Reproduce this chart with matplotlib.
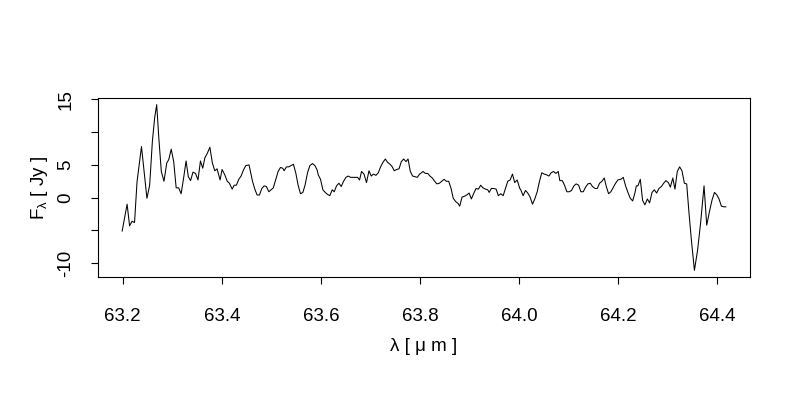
import matplotlib
matplotlib.use("Agg")
import matplotlib.pyplot as plt

plt.rcParams['font.family'] = ['Liberation Sans', 'DejaVu Sans']
plt.rcParams['mathtext.fontset'] = 'custom'
plt.rcParams['mathtext.rm'] = 'Liberation Sans'
plt.rcParams['mathtext.default'] = 'regular'

# wavelength [um] and flux [Jy]
wavelength = [
    63.199, 63.209, 63.214, 63.219, 63.224, 63.229, 63.238, 63.249, 63.2545, 63.260,
    63.2646, 63.2687, 63.273, 63.278, 63.2834, 63.289, 63.293, 63.298, 63.303, 63.308,
    63.313, 63.318, 63.323, 63.328, 63.3325, 63.337, 63.342, 63.347, 63.352, 63.357,
    63.3616, 63.366, 63.371, 63.376, 63.381, 63.3859, 63.3905, 63.3966, 63.4006, 63.406,
    63.411, 63.4154, 63.421, 63.425, 63.4295, 63.4343, 63.439, 63.4436, 63.4485, 63.455,
    63.4586, 63.462, 63.4667, 63.4713, 63.476, 63.4808, 63.4855, 63.490, 63.495, 63.4996,
    63.504, 63.509, 63.5137, 63.5184, 63.523, 63.5258, 63.5305, 63.535, 63.540, 63.5446,
    63.5495, 63.554, 63.5588, 63.5636, 63.568, 63.573, 63.5778, 63.583, 63.5879, 63.5925,
    63.5945, 63.5992, 63.604, 63.6087, 63.6133, 63.618, 63.6228, 63.6269, 63.6315, 63.6364,
    63.641, 63.6457, 63.6505, 63.655, 63.6598, 63.6646, 63.669, 63.674, 63.678, 63.682,
    63.6869, 63.692, 63.697, 63.7016, 63.706, 63.711, 63.7158, 63.7204, 63.7253, 63.730,
    63.7345, 63.7394, 63.744, 63.748, 63.7527, 63.7576, 63.7622, 63.767, 63.7717, 63.7758,
    63.7804, 63.785, 63.790, 63.7945, 63.7992, 63.8012, 63.806, 63.8107, 63.8154, 63.820,
    63.8248, 63.8295, 63.834, 63.839, 63.8436, 63.8485, 63.853, 63.8578, 63.8626, 63.867,
    63.872, 63.8768, 63.880, 63.8848, 63.8895, 63.894, 63.899, 63.9036, 63.908, 63.913,
    63.9178, 63.9224, 63.927, 63.932, 63.9366, 63.9394, 63.944, 63.9487, 63.9535, 63.958,
    63.963, 63.9677, 63.972, 63.977, 63.9818, 63.9865, 63.991, 63.996, 64.0012, 64.0032,
    64.008, 64.0127, 64.0174, 64.022, 64.0269, 64.0315, 64.0364, 64.041, 64.0457, 64.0505,
    64.055, 64.060, 64.0646, 64.0693, 64.074, 64.0788, 64.082, 64.087, 64.0915, 64.0962,
    64.101, 64.1057, 64.1104, 64.115, 64.120, 64.1245, 64.1293, 64.134, 64.1386, 64.1434,
    64.148, 64.153, 64.1576, 64.1622, 64.167, 64.1717, 64.1758, 64.1804, 64.185, 64.190,
    64.1945, 64.1992, 64.204, 64.2052, 64.210, 64.2147, 64.2194, 64.2242, 64.229, 64.2335,
    64.2364, 64.2396, 64.2444, 64.249, 64.2537, 64.2586, 64.2632, 64.268, 64.2727, 64.2774,
    64.282, 64.287, 64.2915, 64.296, 64.301, 64.305, 64.310, 64.3143, 64.319, 64.3238,
    64.3285, 64.3333, 64.338, 64.3427, 64.3475, 64.3536, 64.360, 64.366, 64.373, 64.3784,
    64.384, 64.389, 64.394, 64.399, 64.4032, 64.408, 64.4133, 64.417,
]
flux = [
    -5.1, -1.0, -4.3, -3.6, -3.8, 2.4, 7.8, -0.1, 1.9, 8.6,
    12.2, 14.2, 9.1, 4.0, 2.5, 5.3, 5.8, 7.4, 5.5, 1.5,
    1.5, 0.6, 3.0, 5.6, 3.2, 2.6, 3.9, 3.7, 2.7, 5.6,
    4.5, 6.1, 6.8, 7.7, 5.3, 4.1, 4.4, 2.7, 4.3, 3.5,
    2.5, 2.2, 1.3, 1.9, 1.9, 2.8, 3.3, 4.2, 4.9, 5.0,
    3.7, 2.5, 1.3, 0.4, 0.4, 1.4, 1.8, 1.7, 0.9, 1.2,
    1.5, 2.8, 4.0, 4.6, 4.5, 4.1, 4.7, 4.7, 4.9, 5.1,
    3.7, 1.9, 0.6, 0.8, 1.9, 3.8, 4.9, 5.2, 4.9, 4.2,
    3.5, 2.8, 1.2, 0.8, 0.5, 0.3, 1.2, 0.9, 1.8, 2.2,
    1.7, 2.5, 3.1, 3.3, 3.1, 3.1, 3.1, 3.1, 2.7, 4.0,
    3.6, 2.3, 4.1, 3.3, 3.6, 3.4, 3.8, 4.7, 5.4, 5.9,
    5.4, 5.1, 4.7, 4.1, 4.3, 4.4, 5.5, 5.9, 5.5, 5.9,
    4.0, 3.3, 3.2, 3.1, 3.6, 3.7, 4.0, 3.7, 3.7, 3.3,
    3.0, 2.5, 2.1, 2.2, 2.5, 2.8, 2.5, 2.5, 1.4, -0.1,
    -0.6, -0.9, -1.3, 0.1, 0.2, 0.4, 0.7, -0.2, 0.6, 1.4,
    1.3, 1.9, 1.5, 1.3, 1.2, 0.8, 1.4, 1.4, 1.3, 0.3,
    0.6, 0.3, 1.3, 2.5, 2.7, 3.6, 2.3, 2.7, 1.4, 1.2,
    0.3, 1.1, 0.7, 0.1, -1.0, -0.2, 0.9, 2.5, 3.8, 3.6,
    3.5, 3.3, 3.8, 4.0, 3.7, 4.0, 2.6, 2.6, 1.9, 0.9,
    0.9, 1.1, 1.8, 2.1, 1.9, 0.9, 0.9, 1.6, 2.1, 2.2,
    1.7, 1.4, 1.4, 2.2, 2.5, 3.0, 1.7, 0.6, 0.9, 1.6,
    2.2, 2.7, 2.8, 2.8, 3.1, 1.8, 0.8, -0.1, -0.5, 0.7,
    1.8, 1.8, 2.8, -0.4, -1.1, -0.2, -0.8, 0.8, 1.2, 0.7,
    1.4, 1.7, 2.2, 2.6, 2.3, 1.6, 3.0, 1.3, 4.0, 4.7,
    4.1, 2.2, 2.1, -2.4, -6.5, -11.1, -8.0, -3.9, 1.8, -4.2,
    -2.1, -0.4, 0.8, 0.4, -0.2, -1.3, -1.4, -1.4,
]

yticks = [-10, -5, 0, 5, 10, 15]
ytick_labels = ['-10', '', '0', '5', '', '15']
xticks = [63.2, 63.4, 63.6, 63.8, 64.0, 64.2, 64.4]

fig = plt.figure(figsize=(8, 4), dpi=100)
ax = fig.add_axes([0.1225, 0.3075, 0.815, 0.4475])

ax.plot(wavelength, flux, color='black', lw=0.75)

# R-style 4% padding on both axes
xr = max(wavelength) - min(wavelength)
yr = max(flux) - min(flux)
ax.set_xlim(min(wavelength) - 0.04 * xr, max(wavelength) + 0.04 * xr)
ax.set_ylim(min(flux) - 0.04 * yr, max(flux) + 0.04 * yr)

ax.set_xticks(xticks)
ax.set_xticklabels(['%.1f' % t for t in xticks])
ax.set_yticks(yticks)
ax.set_yticklabels(ytick_labels, rotation=90, va='center')

ax.tick_params(direction='out', length=5, width=0.8, color='black',
               labelsize=13.5)
ax.tick_params(axis='x', pad=17)
ax.tick_params(axis='y', pad=12)
for s in ax.spines.values():
    s.set_linewidth(0.8)
    s.set_color('black')

ax.set_xlabel('λ [ μ m ]', fontsize=13.5, labelpad=10)
ax.set_ylabel(r'F$_{\lambda}$ [ Jy ]', fontsize=13.5, labelpad=5)

fig.savefig('out.png', dpi=100)
